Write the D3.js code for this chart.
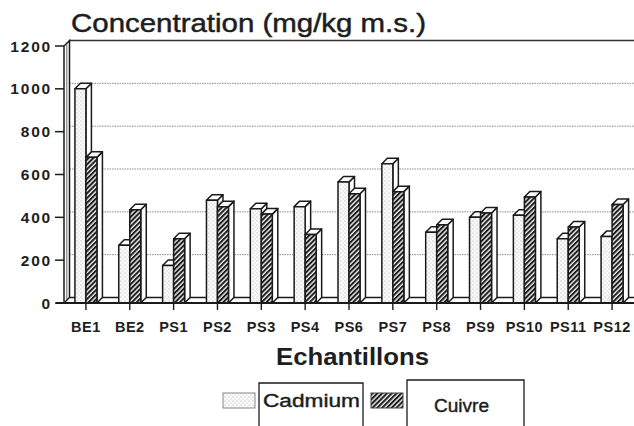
<!DOCTYPE html>
<html>
<head>
<meta charset="utf-8">
<script src="https://cdn.jsdelivr.net/npm/d3@7"></script>
<style>
  html, body { margin: 0; padding: 0; background: #fff; }
  svg { display: block; }
  text { font-family: "Liberation Sans", Arial, Helvetica, sans-serif; fill: #1e1e1e; }
</style>
</head>
<body>
<svg id="chart" width="634" height="426"></svg>
<script>
// Sample codes (PS5 is absent from the series)
const categories = ["BE1", "BE2", "PS1", "PS2", "PS3", "PS4", "PS6", "PS7", "PS8", "PS9", "PS10", "PS11", "PS12"];
// Concentrations in mg/kg dry matter
const cadmium = [1000, 270, 175, 480, 440, 450, 565, 650, 330, 400, 410, 300, 310];
const cuivre  = [680, 435, 300, 450, 415, 320, 510, 520, 365, 420, 495, 355, 460];
const seriesNames = ["Cadmium", "Cuivre"];
const yTicks = [0, 200, 400, 600, 800, 1000, 1200];
const yTickLabels = ["0", "200", "400", "600", "800", "1000", "1200"];
const gridTicks = [200, 400, 600, 800, 1000];

const svg = d3.select("#chart");
const ink = "#1a1a1a";
const depth = 5.5;           // 3D offset (right and up)
const barW = 11;

const x = d3.scaleBand().domain(categories).range([64, 634]).paddingInner(0).paddingOuter(0);
const y = d3.scaleLinear().domain([0, 1200]).range([303, 46]);
const y0 = y(0);
const xLeft = 64, xRight = 634;

// Fill patterns
const defs = svg.append("defs");
const dots = defs.append("pattern").attr("id", "stipple")
  .attr("patternUnits", "userSpaceOnUse").attr("width", 4).attr("height", 4);
dots.append("rect").attr("width", 4).attr("height", 4).attr("fill", "#fafafa");
dots.append("rect").attr("x", 0.5).attr("y", 0.5).attr("width", 1).attr("height", 1).attr("fill", "#b0b0b0");
dots.append("rect").attr("x", 2.5).attr("y", 2.5).attr("width", 1).attr("height", 1).attr("fill", "#c8c8c8");

const hatch = defs.append("pattern").attr("id", "hatch")
  .attr("patternUnits", "userSpaceOnUse").attr("width", 3.4).attr("height", 3.4)
  .attr("patternTransform", "rotate(45)");
hatch.append("rect").attr("width", 3.4).attr("height", 3.4).attr("fill", "#f0f0f0");
hatch.append("line").attr("x1", 1).attr("y1", 0).attr("x2", 1).attr("y2", 3.4)
  .attr("stroke", "#1c1c1c").attr("stroke-width", 2);

const fills = ["url(#stipple)", "url(#hatch)"];

// Title
svg.append("text")
  .attr("x", 71).attr("y", 32)
  .attr("font-size", 25)
  .attr("textLength", 355).attr("lengthAdjust", "spacingAndGlyphs")
  .attr("stroke", ink).attr("stroke-width", 0.45)
  .text("Concentration (mg/kg m.s.)");

// Back wall gridlines
svg.append("g").selectAll("line").data(gridTicks).join("line")
  .attr("x1", xLeft + depth).attr("x2", xRight)
  .attr("y1", d => y(d) - depth).attr("y2", d => y(d) - depth)
  .attr("stroke", "#8a8a8a").attr("stroke-width", 1).attr("stroke-dasharray", "1.5,1");

// Back wall top edge
svg.append("line")
  .attr("x1", xLeft + depth).attr("x2", xRight)
  .attr("y1", y(1200) - depth).attr("y2", y(1200) - depth)
  .attr("stroke", "#333").attr("stroke-width", 1.6);

// Left wall
svg.append("path")
  .attr("d", `M${xLeft},${y0} L${xLeft},${y(1200)} L${xLeft + depth},${y(1200) - depth} L${xLeft + depth},${y0 - depth}`)
  .attr("fill", "#fff").attr("stroke", ink).attr("stroke-width", 1.5);
svg.append("line")
  .attr("x1", xLeft + 2.8).attr("x2", xLeft + 2.8)
  .attr("y1", y(1200) - 2).attr("y2", y0 - 2)
  .attr("stroke", "#555").attr("stroke-width", 0.9);

// Floor
svg.append("path")
  .attr("d", `M${xLeft},${y0} L${xLeft + depth},${y0 - depth} L${xRight + 10},${y0 - depth} L${xRight + 10},${y0} Z`)
  .attr("fill", "#fff").attr("stroke", ink).attr("stroke-width", 1.3);

// Bars: Cadmium to the left of each tick, Cuivre to the right
const bars = svg.append("g");
categories.forEach((c, i) => {
  const cx = x(c) + x.bandwidth() / 2;
  [cadmium[i], cuivre[i]].forEach((v, s) => {
    const x0 = s === 0 ? cx - barW : cx;
    const yv = y(v);
    const g = bars.append("g").attr("stroke", ink).attr("stroke-width", 1.5).attr("stroke-linejoin", "round");
    g.append("path")
      .attr("d", `M${x0 + barW},${yv} L${x0 + barW + depth},${yv - depth} L${x0 + barW + depth},${y0 - depth} L${x0 + barW},${y0} Z`)
      .attr("fill", "#fff");
    g.append("path")
      .attr("d", `M${x0},${yv} L${x0 + depth},${yv - depth} L${x0 + barW + depth},${yv - depth} L${x0 + barW},${yv} Z`)
      .attr("fill", "#fff");
    g.append("rect")
      .attr("x", x0).attr("y", yv).attr("width", barW).attr("height", y0 - yv)
      .attr("fill", fills[s]);
  });
});

// X axis line and ticks
svg.append("line").attr("x1", 56).attr("x2", xRight).attr("y1", y0).attr("y2", y0)
  .attr("stroke", ink).attr("stroke-width", 2.2);
svg.append("g").selectAll("line").data(categories).join("line")
  .attr("x1", d => x(d) + x.bandwidth() / 2).attr("x2", d => x(d) + x.bandwidth() / 2)
  .attr("y1", y0).attr("y2", y0 + 7)
  .attr("stroke", ink).attr("stroke-width", 1.4);
svg.append("g").selectAll("text").data(categories).join("text")
  .attr("x", d => x(d) + x.bandwidth() / 2).attr("y", 331.5)
  .attr("text-anchor", "middle")
  .attr("font-size", 14.5).attr("font-weight", "bold")
  .attr("letter-spacing", 0.5)
  .text(d => d);

// Y axis ticks and labels
svg.append("g").selectAll("line").data(yTicks).join("line")
  .attr("x1", 55).attr("x2", xLeft).attr("y1", d => y(d)).attr("y2", d => y(d))
  .attr("stroke", ink).attr("stroke-width", 1.5);
svg.append("g").selectAll("text").data(yTicks).join("text")
  .attr("x", 52).attr("y", d => y(d) + 5.5)
  .attr("text-anchor", "end")
  .attr("font-size", 15.5).attr("font-weight", "bold")
  .attr("letter-spacing", 1.8)
  .text((d, i) => yTickLabels[i]);

// Axis title
svg.append("text")
  .attr("x", 276).attr("y", 365)
  .attr("font-size", 23).attr("font-weight", "bold")
  .attr("textLength", 153).attr("lengthAdjust", "spacingAndGlyphs")
  .text("Echantillons");

// Legend
const legend = svg.append("g");
const legendItems = [
  { swatch: [223, 393], box: [259, 383, 104], text: [263, 407, 97] },
  { swatch: [371, 393], box: [407, 380, 117], text: [434, 412, 55] }
];
legendItems.forEach((it, s) => {
  legend.append("rect")
    .attr("x", it.swatch[0]).attr("y", it.swatch[1]).attr("width", 32).attr("height", 15)
    .attr("fill", fills[s]).attr("stroke", s === 0 ? "#888" : "#444").attr("stroke-width", 1);
  legend.append("path")
    .attr("d", `M${it.box[0]},430 L${it.box[0]},${it.box[1]} L${it.box[0] + it.box[2]},${it.box[1]} L${it.box[0] + it.box[2]},430`)
    .attr("fill", "none").attr("stroke", ink).attr("stroke-width", 1.3);
  legend.append("text")
    .attr("x", it.text[0]).attr("y", it.text[1])
    .attr("font-size", 18)
    .attr("textLength", it.text[2]).attr("lengthAdjust", "spacingAndGlyphs")
    .attr("stroke", ink).attr("stroke-width", 0.4)
    .text(seriesNames[s]);
});
</script>
</body>
</html>
